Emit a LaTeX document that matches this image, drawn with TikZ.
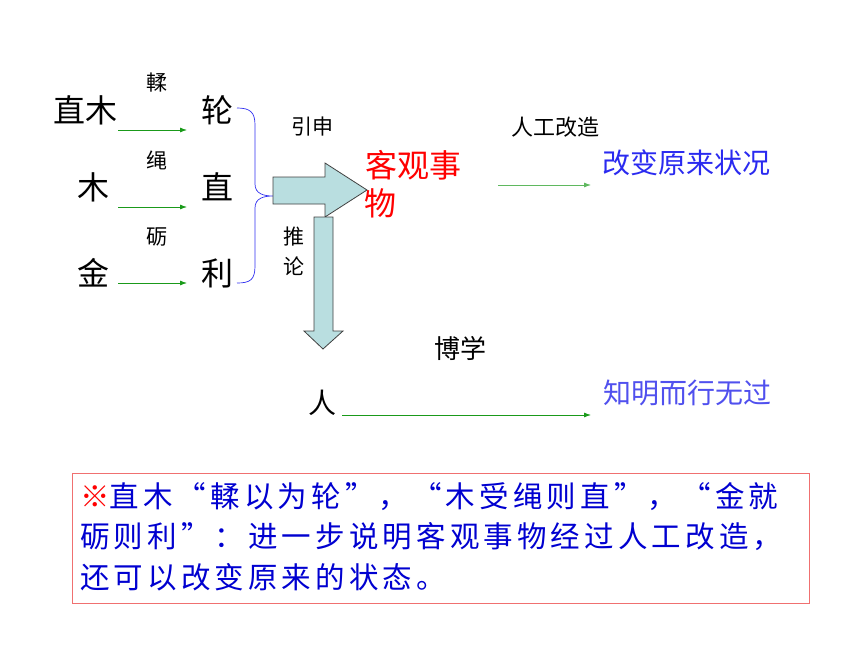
\documentclass[tikz,border=0pt]{standalone}
\usepackage{fontspec}
\setmainfont{Noto Sans CJK SC}
\newfontfamily\boxfont[LetterSpace=14]{Noto Sans CJK SC}
\usetikzlibrary{arrows.meta}
\definecolor{grn}{HTML}{1A9A1A}
\definecolor{brblue}{HTML}{3030F0}
\definecolor{txblue}{HTML}{2A2AF0}
\definecolor{txblue2}{HTML}{5050EE}
\definecolor{boxblue}{HTML}{0000D0}
\definecolor{arrfill}{HTML}{B9DEE0}
\definecolor{arrline}{HTML}{404040}
\definecolor{pinkline}{HTML}{F07070}
\begin{document}
\begin{tikzpicture}[x=1pt,y=-1pt,
  bigtxt/.style={font=\fontsize{32}{36}\selectfont, inner sep=0pt},
  midtxt/.style={font=\fontsize{28}{32}\selectfont, inner sep=0pt},
  smalltxt/.style={font=\fontsize{21}{24}\selectfont, inner sep=0pt},
  boxtxt/.style={font=\boxfont\fontsize{29.5}{32}\selectfont, inner sep=0pt, anchor=west, text=boxblue},
  garrow/.style={draw=grn, line width=0.8pt, -{Latex[length=7pt,width=5pt]}},
  fatarrow/.style={draw=arrline, fill=arrfill, line width=0.8pt, line join=miter},
  brace/.style={draw=brblue, line width=0.7pt}
]
\useasboundingbox (0,0) rectangle (860,645);

% left column
\node[bigtxt] (zhimu) at (85,110) {直木};
\node[bigtxt] (mu) at (93,187) {木};
\node[bigtxt] (jin) at (93,273) {金};
\node[smalltxt] (rou) at (157,83) {輮};
\node[smalltxt] (sheng) at (157,160) {绳};
\node[smalltxt] (li2) at (157,237) {砺};
\node[bigtxt] (lun) at (217,110) {轮};
\node[bigtxt] (zhi) at (217,187) {直};
\node[bigtxt] (li) at (217,273) {利};

\coordinate (a1s) at (118,130); \coordinate (a1e) at (187,130);
\coordinate (a2s) at (118,207); \coordinate (a2e) at (187,207);
\coordinate (a3s) at (118,283); \coordinate (a3e) at (187,283);
\draw[garrow] (a1s) -- (a1e);
\draw[garrow] (a2s) -- (a2e);
\draw[garrow] (a3s) -- (a3e);

% brace
\coordinate (btop) at (237,108);
\coordinate (bmid) at (273,196);
\coordinate (bbot) at (237,283);
\draw[brace] (btop) .. controls (250,108) and (255,112) .. (255,125) -- (255,184)
  .. controls (255,194) and (264,196) .. (bmid)
  .. controls (264,196) and (255,198) .. (255,208) -- (255,266)
  .. controls (255,280) and (250,283) .. (bbot);

% fat arrows
\draw[fatarrow] (273,177) -- (325,177) -- (325,163) -- (367,190) -- (325,217) -- (325,204) -- (273,204) -- cycle;
\draw[fatarrow] (314,217) -- (333,217) -- (333,331) -- (343,331) -- (323,349) -- (304,331) -- (314,331) -- cycle;

\node[smalltxt] (yinshen) at (312,127) {引申};
\node[smalltxt] (tui) at (294,237) {推};
\node[smalltxt] (lunl) at (294,266) {论};

\node[bigtxt, text=red] (keguan) at (413,165) {客观事};
\node[bigtxt, text=red] (wu) at (380,203) {物};

\node[smalltxt, font=\fontsize{22}{26}\selectfont] (rengong) at (555,127) {人工改造};
\coordinate (b1s) at (498,185); \coordinate (b1e) at (591,185);
\draw[garrow, draw=grn!70] (b1s) -- (b1e);
\node[midtxt, text=txblue] (gaibian) at (686,163) {改变原来状况};

\node[midtxt, font=\fontsize{26}{30}\selectfont] (boxue) at (460,348) {博学};
\node[midtxt] (ren) at (322,403) {人};
\coordinate (c1s) at (342,415); \coordinate (c1e) at (591,415);
\draw[garrow] (c1s) -- (c1e);
\node[midtxt, text=txblue2] (zhiming) at (687,393) {知明而行无过};

% note box
\node[draw=pinkline, line width=1.4pt, minimum width=737pt, minimum height=130pt, inner sep=0pt, anchor=north west] (notebox) at (72,473) {};
\node[boxtxt] (l1) at (80,497) {\textcolor{red}{※}直木“輮以为轮”，“木受绳则直”，“金就};
\node[boxtxt] (l2) at (80,537) {砺则利”：进一步说明客观事物经过人工改造，};
\node[boxtxt] (l3) at (80,577) {还可以改变原来的状态。};
\end{tikzpicture}
\end{document}
